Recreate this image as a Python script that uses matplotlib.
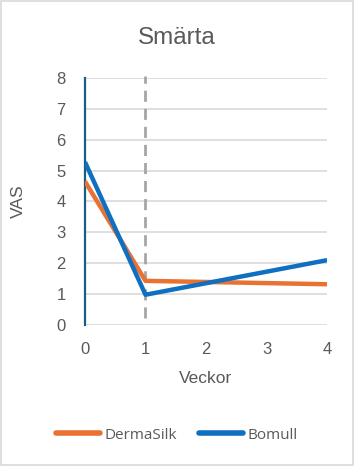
import matplotlib
matplotlib.use('Agg')
import matplotlib.pyplot as plt
from matplotlib.patches import Rectangle
from matplotlib.lines import Line2D

weeks = [0, 1, 4]
dermasilk = [4.65, 1.43, 1.32]
bomull = [5.28, 0.98, 2.1]
yticks = [0, 1, 2, 3, 4, 5, 6, 7, 8]
xticks = [0, 1, 2, 3, 4]

plt.rcParams['font.family'] = ['Liberation Sans', 'DejaVu Sans']
txt = '#595959'

fig = plt.figure(figsize=(3.54, 4.66), dpi=100)
ax = fig.add_axes([0.240, 0.3026, 0.684, 0.530])

ax.plot(weeks, dermasilk, color='#E97132', lw=3.2, solid_capstyle='butt', zorder=3)
ax.plot(weeks, bomull, color='#0F6FC0', lw=3.2, solid_capstyle='butt', zorder=4)
ax.axvline(1, ymin=0.03, ymax=1.01, color='#A6A6A6', lw=2, ls=(0, (4, 2.5)), zorder=2, clip_on=False)

ax.set_xlim(0, 4)
ax.set_ylim(0, 8)
ax.set_xticks(xticks)
ax.set_yticks(yticks)
ax.yaxis.grid(True, color='#D9D9D9', lw=1.2)
ax.set_axisbelow(True)
for s in ['top', 'right', 'bottom']:
    ax.spines[s].set_visible(False)
ax.spines['left'].set_color('#156082')
ax.spines['left'].set_linewidth(1.6)
ax.tick_params(length=0, labelsize=12, colors=txt, pad=14)
ax.tick_params(axis='x', pad=12)

fig.text(0.5, 0.918, 'Smärta', fontsize=17.5, color=txt, ha='center', va='center')
ax.set_xlabel('Veckor', fontsize=12.5, color=txt, labelpad=10)
ax.set_ylabel('VAS', fontsize=12.5, color=txt, labelpad=22)

handles = [Line2D([], [], color='#E97132', lw=4, solid_capstyle='round'),
           Line2D([], [], color='#0F6FC0', lw=4, solid_capstyle='round')]
fig.legend(handles, ['DermaSilk', 'Bomull'], loc='center', bbox_to_anchor=(0.5, 0.066),
           ncol=2, frameon=False, prop={'family': ['Open Sans', 'DejaVu Sans'], 'size': 11},
           labelcolor=txt, handlelength=2.9, handletextpad=0.3, columnspacing=1.4)

fig.patches.append(Rectangle((0.003, 0.002), 0.994, 0.995, transform=fig.transFigure,
                             fill=False, edgecolor='#D9D9D9', lw=1.2))

fig.savefig('out.png', dpi=100)
